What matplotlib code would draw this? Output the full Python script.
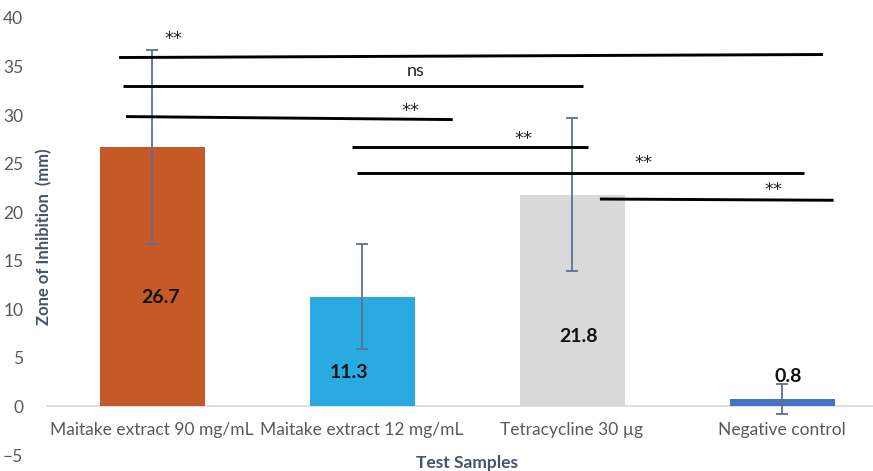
import matplotlib
matplotlib.use("Agg")
import matplotlib.pyplot as plt

plt.rcParams['font.family'] = ['Lato', 'DejaVu Sans']

categories = ["Maitake extract 90 mg/mL", "Maitake extract 12 mg/mL",
              "Tetracycline 30 µg", "Negative control"]
values = [26.7, 11.3, 21.8, 0.8]
errors = [10.0, 5.4, 7.9, 1.55]
value_labels = ["26.7", "11.3", "21.8", "0.8"]
bar_colors = ["#C55A28", "#29ABE2", "#D9D9D9", "#4472C4"]

# significance brackets: (x_start, x_end, y_start, y_end, label, label_x, label_y)
sig_lines = [
    (-0.157, 3.195, 35.93, 36.24, "**", 0.10, 38.4),
    (-0.140, 2.051, 32.95, 32.95, "ns", 1.257, 34.5),
    (-0.124, 1.432, 29.85, 29.54, "**", 1.233, 31.0),
    (0.952, 2.075, 26.70, 26.70, "**", 1.77, 28.1),
    (0.976, 3.103, 24.03, 24.03, "**", 2.338, 25.7),
    (2.133, 3.246, 21.36, 21.23, "**", 2.957, 22.9),
]
# value label positions (x, y)
label_pos = [(0.043, 11.2), (0.94, 3.5), (2.03, 7.2), (3.03, 3.1)]

W, H = 873, 471
fig = plt.figure(figsize=(W / 100, H / 100), dpi=100)
left = 47 / W
right = 887 / W
top = 1 - 18 / H
bottom = 1 - 455 / H
ax = fig.add_axes([left, bottom, right - left, top - bottom])

x = list(range(len(categories)))
ax.bar(x, values, width=0.5, color=bar_colors, zorder=2)
ax.errorbar(x, values, yerr=errors, fmt='none', ecolor='#5D6F99',
            elinewidth=1.3, capsize=4, capthick=1.3, zorder=3)

for (lx, ly), txt in zip(label_pos, value_labels):
    ax.text(lx, ly, txt, ha='center', va='center', fontsize=14,
            fontweight='bold', color='#111111', zorder=4)

for x0, x1, y0, y1, lab, tx, ty in sig_lines:
    ax.plot([x0, x1], [y0, y1], color='black', lw=2.1, solid_capstyle='butt', zorder=4)
    if lab == 'ns':
        ax.text(tx, ty, lab, ha='center', va='center', fontsize=13,
                color='#222222', zorder=4)
    else:
        ax.text(tx, ty - 0.6, lab, ha='center', va='center', fontsize=13,
                family='DejaVu Sans', color='#222222', zorder=4)

ax.set_xlim(-0.5, 3.5)
ax.set_ylim(-5, 40)
ax.set_yticks(range(-5, 41, 5))
ax.set_xticks(x)
ax.set_xticklabels(categories)

for s in ['top', 'right', 'left']:
    ax.spines[s].set_visible(False)
ax.spines['bottom'].set_position(('data', 0))
ax.spines['bottom'].set_color('#D9D9D9')
ax.spines['bottom'].set_linewidth(1.2)
ax.spines['bottom'].set_zorder(1)

ax.tick_params(axis='y', length=0, pad=17, labelsize=12.5, labelcolor='#595959')
ax.tick_params(axis='x', length=0, pad=11, labelsize=12.5, labelcolor='#595959')

ax.set_ylabel("Zone of Inhibition  (mm)", fontsize=12, fontweight='bold',
              color='#44546A')
ax.yaxis.label.set_va('center')
ax.yaxis.set_label_coords(-0.004, 0.5)

ax.set_xlabel("Test Samples", fontsize=12.5, fontweight='bold', color='#44546A')
ax.xaxis.label.set_va('center')
ax.xaxis.set_label_coords(0.5, (455 - 463) / 437.0)

fig.savefig("out.png", dpi=100)
